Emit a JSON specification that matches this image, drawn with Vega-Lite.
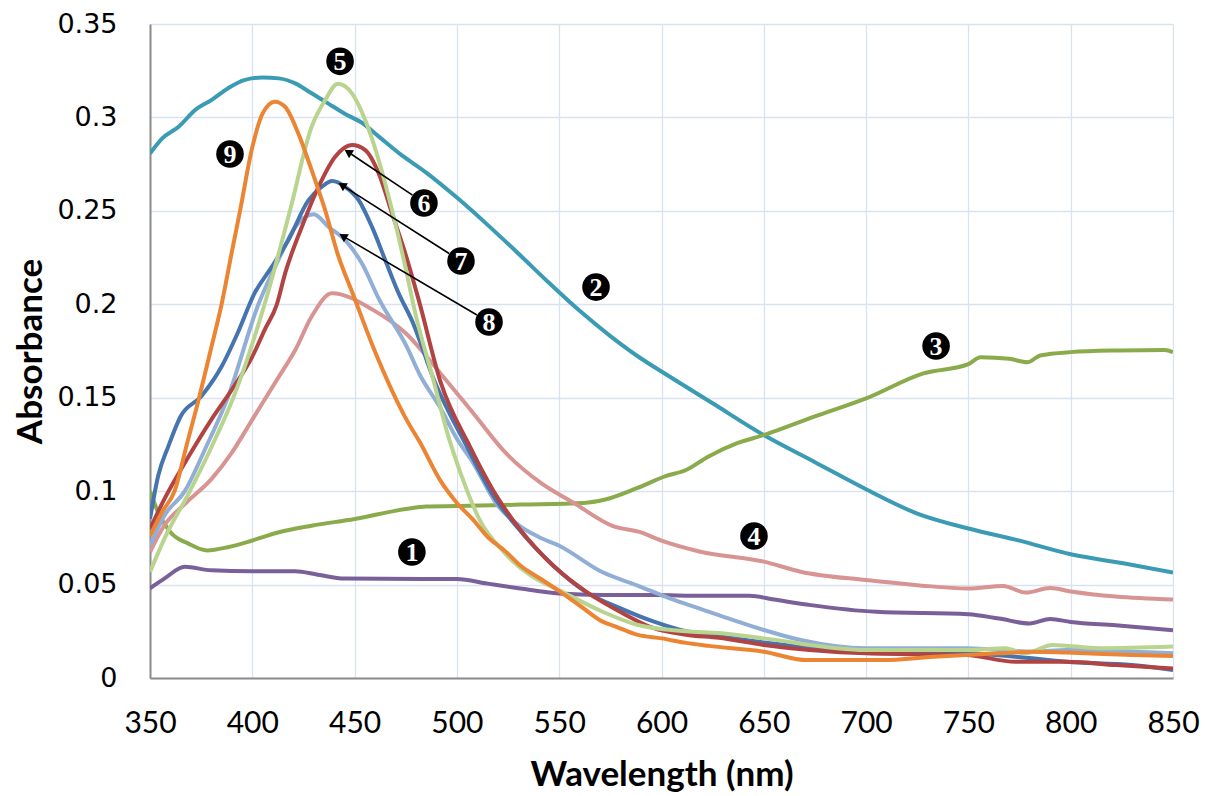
{
  "$schema": "https://vega.github.io/schema/vega-lite/v6.json",
  "width": 1023,
  "height": 654,
  "autosize": "none",
  "padding": {"left": 150, "top": 24, "right": 32, "bottom": 118},
  "background": "white",
  "config": {"view": {"stroke": null}},
  "datasets": {
    "curves": [
      {"s":"1","x":350,"y":0.048},{"s":"1","x":357,"y":0.0532},{"s":"1","x":367,"y":0.0595},{"s":"1","x":380,"y":0.0576},{"s":"1","x":400,"y":0.0571},{"s":"1","x":421,"y":0.0571},{"s":"1","x":432,"y":0.0553},{"s":"1","x":445,"y":0.0532},{"s":"1","x":484,"y":0.053},{"s":"1","x":500,"y":0.053},{"s":"1","x":515,"y":0.0505},{"s":"1","x":531,"y":0.0479},{"s":"1","x":550,"y":0.0452},{"s":"1","x":571,"y":0.0444},{"s":"1","x":596,"y":0.0444},{"s":"1","x":620,"y":0.044},{"s":"1","x":643,"y":0.044},{"s":"1","x":655,"y":0.042},{"s":"1","x":673,"y":0.039},{"s":"1","x":705,"y":0.0354},{"s":"1","x":750,"y":0.0341},{"s":"1","x":765,"y":0.0318},{"s":"1","x":780,"y":0.0292},{"s":"1","x":790,"y":0.0316},{"s":"1","x":800,"y":0.03},{"s":"1","x":822,"y":0.0282},{"s":"1","x":850,"y":0.0255},
      {"s":"2","x":350,"y":0.2807},{"s":"2","x":356,"y":0.2888},{"s":"2","x":364,"y":0.295},{"s":"2","x":372,"y":0.3039},{"s":"2","x":380,"y":0.3093},{"s":"2","x":388,"y":0.3155},{"s":"2","x":396,"y":0.32},{"s":"2","x":405,"y":0.3214},{"s":"2","x":413,"y":0.3209},{"s":"2","x":421,"y":0.3182},{"s":"2","x":429,"y":0.3129},{"s":"2","x":437,"y":0.3075},{"s":"2","x":445,"y":0.3021},{"s":"2","x":454,"y":0.2968},{"s":"2","x":462,"y":0.2896},{"s":"2","x":472,"y":0.2806},{"s":"2","x":485,"y":0.2705},{"s":"2","x":500,"y":0.2571},{"s":"2","x":515,"y":0.2425},{"s":"2","x":530,"y":0.2272},{"s":"2","x":545,"y":0.2115},{"s":"2","x":560,"y":0.1965},{"s":"2","x":575,"y":0.183},{"s":"2","x":590,"y":0.171},{"s":"2","x":600,"y":0.164},{"s":"2","x":625,"y":0.147},{"s":"2","x":650,"y":0.13},{"s":"2","x":675,"y":0.1155},{"s":"2","x":700,"y":0.101},{"s":"2","x":725,"y":0.088},{"s":"2","x":750,"y":0.08},{"s":"2","x":775,"y":0.0735},{"s":"2","x":800,"y":0.0662},{"s":"2","x":825,"y":0.0615},{"s":"2","x":850,"y":0.0564},
      {"s":"3","x":350,"y":0.1},{"s":"3","x":354,"y":0.0886},{"s":"3","x":360,"y":0.078},{"s":"3","x":369,"y":0.0718},{"s":"3","x":378,"y":0.0683},{"s":"3","x":388,"y":0.07},{"s":"3","x":400,"y":0.0736},{"s":"3","x":413,"y":0.078},{"s":"3","x":429,"y":0.0815},{"s":"3","x":450,"y":0.0851},{"s":"3","x":475,"y":0.0904},{"s":"3","x":485,"y":0.0918},{"s":"3","x":500,"y":0.092},{"s":"3","x":531,"y":0.0928},{"s":"3","x":562,"y":0.0937},{"s":"3","x":572,"y":0.0954},{"s":"3","x":588,"y":0.1016},{"s":"3","x":602,"y":0.108},{"s":"3","x":612,"y":0.1113},{"s":"3","x":623,"y":0.1186},{"s":"3","x":637,"y":0.1257},{"s":"3","x":650,"y":0.13},{"s":"3","x":675,"y":0.14},{"s":"3","x":700,"y":0.1496},{"s":"3","x":728,"y":0.163},{"s":"3","x":750,"y":0.168},{"s":"3","x":756,"y":0.1717},{"s":"3","x":770,"y":0.1708},{"s":"3","x":779,"y":0.169},{"s":"3","x":785,"y":0.1726},{"s":"3","x":800,"y":0.1744},{"s":"3","x":824,"y":0.1753},{"s":"3","x":846,"y":0.1756},{"s":"3","x":850,"y":0.1744},
      {"s":"4","x":350,"y":0.0674},{"s":"4","x":357,"y":0.0816},{"s":"4","x":367,"y":0.0931},{"s":"4","x":380,"y":0.1064},{"s":"4","x":390,"y":0.1206},{"s":"4","x":400,"y":0.1383},{"s":"4","x":413,"y":0.1613},{"s":"4","x":421,"y":0.1755},{"s":"4","x":429,"y":0.1935},{"s":"4","x":439,"y":0.2059},{"s":"4","x":459,"y":0.197},{"s":"4","x":475,"y":0.1845},{"s":"4","x":492,"y":0.163},{"s":"4","x":508,"y":0.1417},{"s":"4","x":524,"y":0.1203},{"s":"4","x":541,"y":0.1044},{"s":"4","x":557,"y":0.0938},{"s":"4","x":576,"y":0.0814},{"s":"4","x":590,"y":0.0779},{"s":"4","x":600,"y":0.0735},{"s":"4","x":619,"y":0.0676},{"s":"4","x":650,"y":0.0623},{"s":"4","x":668,"y":0.0569},{"s":"4","x":700,"y":0.0524},{"s":"4","x":725,"y":0.0497},{"s":"4","x":750,"y":0.0479},{"s":"4","x":767,"y":0.0493},{"s":"4","x":778,"y":0.0457},{"s":"4","x":790,"y":0.0481},{"s":"4","x":800,"y":0.0463},{"s":"4","x":822,"y":0.0436},{"s":"4","x":850,"y":0.042},
      {"s":"8","x":350,"y":0.0709},{"s":"8","x":357,"y":0.0869},{"s":"8","x":367,"y":0.1},{"s":"8","x":377,"y":0.1227},{"s":"8","x":388,"y":0.15},{"s":"8","x":403,"y":0.2},{"s":"8","x":412.7,"y":0.2236},{"s":"8","x":421,"y":0.2414},{"s":"8","x":430,"y":0.2482},{"s":"8","x":437.3,"y":0.2414},{"s":"8","x":445.4,"y":0.2343},{"s":"8","x":453.6,"y":0.2218},{"s":"8","x":461.8,"y":0.203},{"s":"8","x":475.5,"y":0.1773},{"s":"8","x":482,"y":0.162},{"s":"8","x":491.7,"y":0.145},{"s":"8","x":500,"y":0.128},{"s":"8","x":508,"y":0.115},{"s":"8","x":519.5,"y":0.093},{"s":"8","x":530.8,"y":0.0813},{"s":"8","x":540,"y":0.0755},{"s":"8","x":550,"y":0.0708},{"s":"8","x":571,"y":0.0567},{"s":"8","x":588,"y":0.0496},{"s":"8","x":604,"y":0.0426},{"s":"8","x":619,"y":0.037},{"s":"8","x":635,"y":0.031},{"s":"8","x":650,"y":0.0257},{"s":"8","x":668,"y":0.0203},{"s":"8","x":700,"y":0.0159},{"s":"8","x":749,"y":0.0159},{"s":"8","x":782,"y":0.0141},{"s":"8","x":798,"y":0.015},{"s":"8","x":850,"y":0.0132},
      {"s":"7","x":350,"y":0.0851},{"s":"7","x":354,"y":0.1082},{"s":"7","x":359,"y":0.1241},{"s":"7","x":365,"y":0.1401},{"s":"7","x":375,"y":0.1507},{"s":"7","x":385,"y":0.1667},{"s":"7","x":393,"y":0.185},{"s":"7","x":401,"y":0.2057},{"s":"7","x":409.5,"y":0.22},{"s":"7","x":417.6,"y":0.2343},{"s":"7","x":427.5,"y":0.2557},{"s":"7","x":434,"y":0.2629},{"s":"7","x":439,"y":0.266},{"s":"7","x":445.4,"y":0.2629},{"s":"7","x":452,"y":0.2557},{"s":"7","x":458.5,"y":0.2414},{"s":"7","x":465,"y":0.2236},{"s":"7","x":471.6,"y":0.2057},{"s":"7","x":478,"y":0.1914},{"s":"7","x":489,"y":0.159},{"s":"7","x":505,"y":0.1236},{"s":"7","x":518,"y":0.0972},{"s":"7","x":529,"y":0.0813},{"s":"7","x":547,"y":0.0602},{"s":"7","x":563,"y":0.0461},{"s":"7","x":580,"y":0.0373},{"s":"7","x":596,"y":0.0303},{"s":"7","x":612,"y":0.025},{"s":"7","x":628,"y":0.0224},{"s":"7","x":650,"y":0.019},{"s":"7","x":700,"y":0.0141},{"s":"7","x":750,"y":0.0132},{"s":"7","x":773,"y":0.0114},{"s":"7","x":798,"y":0.0087},{"s":"7","x":830,"y":0.0069},{"s":"7","x":850,"y":0.0043},
      {"s":"6","x":350,"y":0.0798},{"s":"6","x":357,"y":0.0957},{"s":"6","x":369,"y":0.1188},{"s":"6","x":380,"y":0.1383},{"s":"6","x":390,"y":0.1543},{"s":"6","x":400,"y":0.172},{"s":"6","x":406,"y":0.1862},{"s":"6","x":412,"y":0.2},{"s":"6","x":416,"y":0.2164},{"s":"6","x":424.2,"y":0.2414},{"s":"6","x":432.4,"y":0.2629},{"s":"6","x":440.5,"y":0.2789},{"s":"6","x":448.7,"y":0.2852},{"s":"6","x":455.2,"y":0.2825},{"s":"6","x":461.8,"y":0.27},{"s":"6","x":468.3,"y":0.2486},{"s":"6","x":474.8,"y":0.2271},{"s":"6","x":481.4,"y":0.2021},{"s":"6","x":491.9,"y":0.1588},{"s":"6","x":506.5,"y":0.1236},{"s":"6","x":519.5,"y":0.0972},{"s":"6","x":530.8,"y":0.0796},{"s":"6","x":547,"y":0.0602},{"s":"6","x":563.3,"y":0.0461},{"s":"6","x":579.5,"y":0.0356},{"s":"6","x":595.8,"y":0.0268},{"s":"6","x":612,"y":0.0232},{"s":"6","x":628,"y":0.0215},{"s":"6","x":650,"y":0.0177},{"s":"6","x":700,"y":0.0132},{"s":"6","x":749,"y":0.0123},{"s":"6","x":773,"y":0.0087},{"s":"6","x":798,"y":0.0087},{"s":"6","x":822,"y":0.0069},{"s":"6","x":850,"y":0.0051},
      {"s":"5","x":350,"y":0.0567},{"s":"5","x":357,"y":0.0745},{"s":"5","x":369.5,"y":0.1},{"s":"5","x":380,"y":0.1235},{"s":"5","x":390.7,"y":0.15},{"s":"5","x":406,"y":0.2},{"s":"5","x":418.4,"y":0.25},{"s":"5","x":429,"y":0.295},{"s":"5","x":435.6,"y":0.3093},{"s":"5","x":441.8,"y":0.318},{"s":"5","x":448.7,"y":0.3129},{"s":"5","x":455.2,"y":0.2986},{"s":"5","x":461.8,"y":0.2771},{"s":"5","x":468.3,"y":0.2504},{"s":"5","x":474.8,"y":0.22},{"s":"5","x":479.7,"y":0.195},{"s":"5","x":488.5,"y":0.1595},{"s":"5","x":495,"y":0.1324},{"s":"5","x":503,"y":0.106},{"s":"5","x":511,"y":0.0849},{"s":"5","x":523,"y":0.0673},{"s":"5","x":536,"y":0.0549},{"s":"5","x":550,"y":0.047},{"s":"5","x":571,"y":0.0356},{"s":"5","x":588,"y":0.0285},{"s":"5","x":612,"y":0.025},{"s":"5","x":628,"y":0.0241},{"s":"5","x":650,"y":0.0212},{"s":"5","x":700,"y":0.015},{"s":"5","x":749,"y":0.015},{"s":"5","x":768,"y":0.0159},{"s":"5","x":778,"y":0.0132},{"s":"5","x":791,"y":0.0177},{"s":"5","x":814,"y":0.0159},{"s":"5","x":850,"y":0.0168},
      {"s":"9","x":350,"y":0.076},{"s":"9","x":356,"y":0.089},{"s":"9","x":362,"y":0.1},{"s":"9","x":368,"y":0.125},{"s":"9","x":374,"y":0.15},{"s":"9","x":380,"y":0.177},{"s":"9","x":385,"y":0.2},{"s":"9","x":390,"y":0.228},{"s":"9","x":394,"y":0.25},{"s":"9","x":400,"y":0.284},{"s":"9","x":405,"y":0.302},{"s":"9","x":411,"y":0.3084},{"s":"9","x":416,"y":0.3057},{"s":"9","x":422.5,"y":0.2914},{"s":"9","x":429,"y":0.2718},{"s":"9","x":435.6,"y":0.2504},{"s":"9","x":442,"y":0.226},{"s":"9","x":449,"y":0.206},{"s":"9","x":459,"y":0.1773},{"s":"9","x":475.5,"y":0.138},{"s":"9","x":482,"y":0.126},{"s":"9","x":491.7,"y":0.106},{"s":"9","x":500,"y":0.0937},{"s":"9","x":508,"y":0.0846},{"s":"9","x":514.6,"y":0.076},{"s":"9","x":524,"y":0.0675},{"s":"9","x":531,"y":0.0602},{"s":"9","x":541,"y":0.053},{"s":"9","x":550,"y":0.0465},{"s":"9","x":561,"y":0.038},{"s":"9","x":571,"y":0.0303},{"s":"9","x":578,"y":0.0274},{"s":"9","x":588,"y":0.0232},{"s":"9","x":600,"y":0.0212},{"s":"9","x":612,"y":0.0188},{"s":"9","x":623,"y":0.0172},{"s":"9","x":650,"y":0.0141},{"s":"9","x":671,"y":0.0096},{"s":"9","x":708,"y":0.0096},{"s":"9","x":733,"y":0.0114},{"s":"9","x":765,"y":0.0132},{"s":"9","x":782,"y":0.0141},{"s":"9","x":798,"y":0.0136},{"s":"9","x":830,"y":0.0123},{"s":"9","x":850,"y":0.0118}
    ],
    "labels": [
      {"label":"1","x":478,"y":0.0674},
      {"label":"2","x":568,"y":0.2092},
      {"label":"3","x":734.2,"y":0.1777},
      {"label":"4","x":645.2,"y":0.076},
      {"label":"5","x":442.9,"y":0.33},
      {"label":"6","x":483.9,"y":0.2542},
      {"label":"7","x":502,"y":0.2232},
      {"label":"8","x":515.7,"y":0.1905},
      {"label":"9","x":389.1,"y":0.2804}
    ],
    "arrows": [
      {"id":"6","x1":478.3,"y1":0.2584,"x2":446.8,"y2":0.2815},
      {"id":"7","x1":496.2,"y1":0.2272,"x2":443.8,"y2":0.2638},
      {"id":"8","x1":509.8,"y1":0.1943,"x2":444.3,"y2":0.2365}
    ]
  },
  "encoding": {
    "x": {
      "type": "quantitative",
      "title": "Wavelength (nm)",
      "scale": {"domain": [350, 850], "nice": false, "zero": false},
      "axis": {
        "values": [350, 400, 450, 500, 550, 600, 650, 700, 750, 800, 850],
        "grid": true, "gridColor": "#D9E2F1", "gridWidth": 1.3,
        "domainColor": "#8C8C8C", "domainWidth": 2,
        "ticks": false,
        "labelFont": "Lato", "labelFontSize": 30, "labelColor": "#000000", "labelPadding": 30,
        "labelFlush": false, "labelOverlap": false,
        "titleFont": "Lato", "titleFontSize": 35, "titleFontWeight": "bold", "titleColor": "#000000",
        "titleBaseline": "middle", "titleY": 96
      }
    },
    "y": {
      "type": "quantitative",
      "title": "Absorbance",
      "scale": {"domain": [0, 0.35], "nice": false},
      "axis": {
        "values": [0, 0.05, 0.1, 0.15, 0.2, 0.25, 0.3, 0.35],
        "format": ".2~f",
        "grid": true, "gridColor": "#D9E2F1", "gridWidth": 1.3,
        "domainColor": "#8C8C8C", "domainWidth": 2,
        "ticks": false,
        "labelFont": "DejaVu Sans", "labelFontSize": 27, "labelColor": "#000000", "labelPadding": 33,
        "labelFlush": false, "labelOverlap": false,
        "titleFont": "Lato", "titleFontSize": 35, "titleFontWeight": "bold", "titleColor": "#000000",
        "titleAngle": -90, "titleBaseline": "middle", "titleX": -120, "titleY": 327
      }
    }
  },
  "layer": [
    {
      "data": {"name": "curves"},
      "mark": {"type": "line", "strokeWidth": 4, "interpolate": "monotone", "clip": true},
      "encoding": {
        "x": {"field": "x"},
        "y": {"field": "y"},
        "color": {
          "field": "s", "type": "nominal", "legend": null,
          "scale": {
            "domain": ["1","2","3","4","5","6","7","8","9"],
            "range": ["#7A5F99","#3B9BB4","#8AAB4C","#D79492","#B9D48F","#B14442","#4574AE","#91AED6","#EB8533"]
          }
        }
      }
    },
    {
      "data": {"name": "arrows"},
      "mark": {"type": "rule", "strokeWidth": 1.6, "color": "#000000"},
      "encoding": {
        "x": {"field": "x1"},
        "y": {"field": "y1"},
        "x2": {"field": "x2"},
        "y2": {"field": "y2"}
      }
    },
    {
      "data": {"name": "arrows"},
      "mark": {"type": "point", "shape": "triangle-up", "angle": 302, "filled": true, "color": "#000000", "size": 90, "opacity": 1},
      "encoding": {
        "x": {"field": "x2"},
        "y": {"field": "y2"}
      }
    },
    {
      "data": {"name": "labels"},
      "mark": {"type": "point", "shape": "circle", "filled": true, "color": "#000000", "size": 760, "opacity": 1},
      "encoding": {
        "x": {"field": "x"},
        "y": {"field": "y"}
      }
    },
    {
      "data": {"name": "labels"},
      "mark": {"type": "text", "color": "#FFFFFF", "font": "Liberation Serif", "fontWeight": "bold", "fontSize": 26, "align": "center", "baseline": "middle", "dy": 1},
      "encoding": {
        "x": {"field": "x"},
        "y": {"field": "y"},
        "text": {"field": "label"}
      }
    }
  ]
}
